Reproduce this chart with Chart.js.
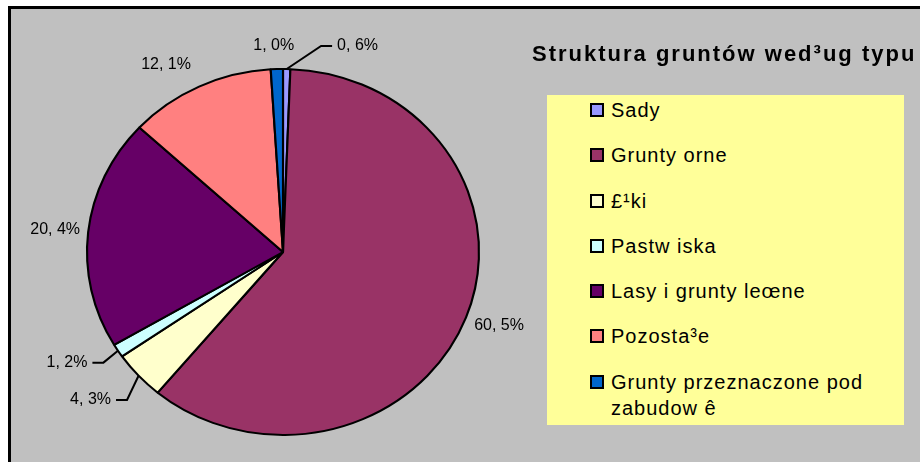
<!DOCTYPE html>
<html>
<head>
<meta charset="utf-8">
<script src="https://cdn.jsdelivr.net/npm/chart.js@4.4.0/dist/chart.umd.min.js"></script>
<style>
  body { margin: 0; background: #fff; overflow: hidden; font-family: "Liberation Sans", Arial, sans-serif; }
  #frame { position: absolute; left: 8px; top: 6px; width: 930px; height: 470px;
           border-left: 3px solid #000; border-top: 3px solid #000; background: #c0c0c0; }
  #wrap { position: absolute; left: 0; top: 0; width: 920px; height: 462px; }
  #title { position: absolute; left: 532px; top: 43px; font-weight: bold; font-size: 22px;
           line-height: 22px; letter-spacing: 2px; white-space: nowrap; color: #000; }
  #legend { position: absolute; left: 547px; top: 95px; width: 357px; height: 330px;
            background: #ffff99; box-sizing: border-box; padding: 2px 0 0 43px; }
  .item { display: flex; align-items: flex-start; margin-bottom: 19.3px; font-size: 20px;
          line-height: 26px; letter-spacing: 1px; }
  .box { width: 14px; height: 14px; border: 2px solid #000; box-sizing: border-box;
         margin-top: 6px; margin-right: 7px; flex: none; }
  .txt { max-width: 275px; }
</style>
</head>
<body>
<div id="frame"></div>
<div id="wrap"><canvas id="pie"></canvas></div>
<div id="title">Struktura gruntów wed³ug typu</div>
<div id="legend"></div>
<script>
/* data */
const categories = ["Sady", "Grunty orne", "£¹ki", "Pastw iska", "Lasy i grunty leœne", "Pozosta³e", "Grunty przeznaczone pod zabudow ê"];
const shares = [0.6, 60.5, 4.3, 1.2, 20.4, 12.1, 1.0];

/* style */
const sliceColors = ["#9999ff", "#993366", "#ffffcc", "#ccffff", "#660066", "#ff8080", "#0066cc"];
const stretchX = 196 / 183; // excel pie is a bit wider than tall
// labels that excel pulled away from their slice (get a leader line)
const labelNudge = [[69, 1], [0, 0], [-15, 8], [-18, -1], [0, 0], [0, 0], [0, 0]];

function formatShare(v) {
  return v.toFixed(1).replace(".", ", ") + "%";
}

// squash the circle into the ellipse excel drew
const stretchPie = {
  id: "stretchPie",
  beforeDatasetsDraw(chart) {
    const ctx = chart.ctx;
    const arc = chart.getDatasetMeta(0).data[0];
    ctx.save();
    ctx.translate(arc.x, arc.y);
    ctx.scale(stretchX, 1);
    ctx.translate(-arc.x, -arc.y);
  },
  afterDatasetsDraw(chart) {
    chart.ctx.restore();
  }
};

const sliceLabels = {
  id: "sliceLabels",
  afterDraw(chart) {
    const ctx = chart.ctx;
    const arcs = chart.getDatasetMeta(0).data;
    ctx.save();
    ctx.font = '16px "Liberation Sans", Arial, sans-serif';
    ctx.fillStyle = "#000";
    ctx.strokeStyle = "#000";
    ctx.lineWidth = 2;
    ctx.textAlign = "center";
    ctx.textBaseline = "middle";
    arcs.forEach(function (arc, i) {
      const mid = (arc.startAngle + arc.endAngle) / 2;
      const ex = arc.x + arc.outerRadius * stretchX * Math.cos(mid);
      const ey = arc.y + arc.outerRadius * Math.sin(mid);
      const nx = labelNudge[i][0], ny = labelNudge[i][1];
      // text box sits beside the rim, pushed out sideways by about half its width
      const side = Math.max(-1, Math.min(1, Math.cos(mid) * 3));
      const lx = ex + 33 * side + nx;
      const ly = ey + 24 * Math.sin(mid) + ny;
      const text = formatShare(shares[i]);
      ctx.fillText(text, lx, ly);
      if (nx || ny) {
        const half = ctx.measureText(text).width / 2;
        const dir = lx > ex ? -1 : 1;
        const x0 = lx + dir * (half + 5);
        const x1 = x0 + dir * 11;
        ctx.beginPath();
        ctx.moveTo(x0, ly);
        ctx.lineTo(x1, ly);
        ctx.lineTo(ex, ey);
        ctx.stroke();
      }
    });
    ctx.restore();
  }
};

const pieCtx = document.getElementById("pie").getContext("2d");
const pieChart = new Chart(pieCtx, {
  type: "pie",
  data: {
    labels: categories,
    datasets: [{
      data: shares,
      backgroundColor: sliceColors,
      borderColor: "#000",
      borderWidth: 2,
      radius: 183
    }]
  },
  options: {
    responsive: true,
    maintainAspectRatio: false,
    animation: false,
    layout: { padding: { left: 100, right: 454, top: 69, bottom: 27 } },
    plugins: {
      legend: { display: false },
      tooltip: { enabled: false }
    }
  },
  plugins: [stretchPie, sliceLabels]
});

// legend box on the right
const legend = document.getElementById("legend");
categories.forEach(function (name, i) {
  const item = document.createElement("div");
  item.className = "item";
  item.innerHTML = '<span class="box" style="background:' + sliceColors[i] + '"></span><span class="txt">' + name + "</span>";
  legend.appendChild(item);
});
</script>
</body>
</html>
